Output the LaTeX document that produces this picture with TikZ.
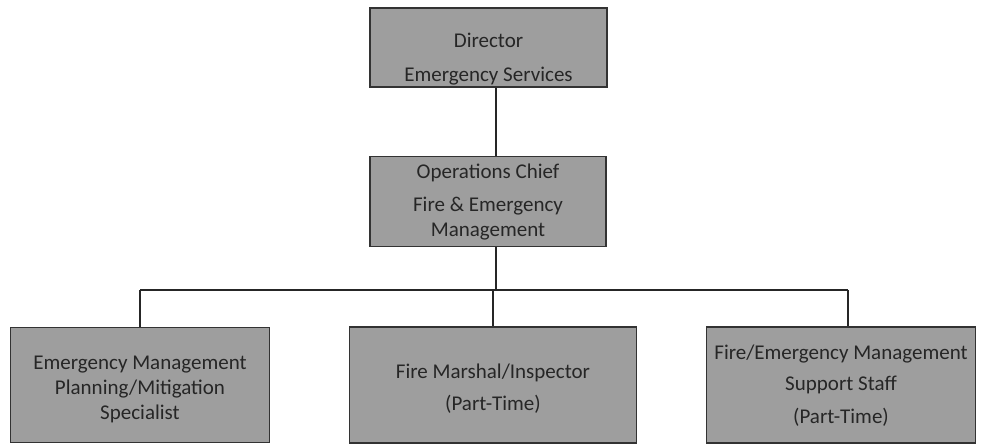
\documentclass[tikz,border=0pt]{standalone}
\usepackage{fontspec}
\setmainfont{Carlito}
\begin{document}
\begin{tikzpicture}[x=1pt,y=-1pt,
  post/.style={draw=black!80, line width=1.1pt, fill=black!38},
  caption/.style={text=black!85, align=center, inner sep=0pt,
    font=\fontsize{21}{25}\selectfont},
  link/.style={draw=black!85, line width=1.1pt}]
  \useasboundingbox[fill=white] (0,0) rectangle (981,447);

  % boxes
  \node[post, minimum width=237pt, minimum height=79pt] (dir) at (488.5,47.5) {};
  \node[post, minimum width=236pt, minimum height=90pt] (ops) at (488,201.5) {};
  \node[post, minimum width=259pt, minimum height=115pt] (lft) at (140,385) {};
  \node[post, minimum width=287pt, minimum height=116pt] (mid) at (493,385) {};
  \node[post, minimum width=269pt, minimum height=116pt] (rgt) at (841,385) {};

  % box texts
  \node[caption] (dirT) at ([yshift=-12pt]dir.center)
    {Director\\[9pt]Emergency Services};
  \node[caption] (opsT) at ([yshift=-1pt]ops.center)
    {Operations Chief\\[8pt]Fire \& Emergency\\Management};
  \node[caption] (lftT) at ([yshift=-4pt]lft.center)
    {Emergency Management\\Planning/Mitigation\\Specialist};
  \node[caption] (midT) at ([yshift=-4pt]mid.center)
    {Fire Marshal/Inspector\\[7pt](Part-Time)};
  \node[caption] (rgtT) at ([yshift=-1pt]rgt.center)
    {Fire/Emergency Management\\[6pt]Support Staff\\[8pt](Part-Time)};

  % connector points
  \coordinate (trunk) at (496,290);
  \coordinate (busL) at (140,290);
  \coordinate (busM) at (493,290);
  \coordinate (busR) at (848,290);

  % connectors
  \draw[link] (dir.south -| trunk) -- (ops.north -| trunk);
  \draw[link] (ops.south -| trunk) -- (trunk);
  \draw[link] (busL) -- (busR);
  \draw[link] (busL) -- (lft.north -| busL);
  \draw[link] (busM) -- (mid.north -| busM);
  \draw[link] (busR) -- (rgt.north -| busR);
\end{tikzpicture}
\end{document}
